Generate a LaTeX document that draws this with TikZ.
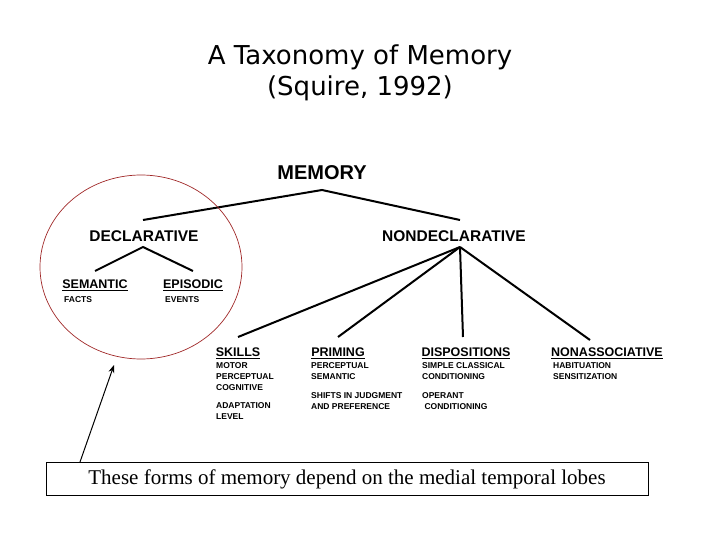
\documentclass[tikz,border=0pt]{standalone}
\usepackage{fontspec}
\usetikzlibrary{arrows.meta}
\setmainfont{Liberation Serif}
\newfontfamily\hvfont{Liberation Sans}
\newfontfamily\djfont{DejaVu Sans}
\begin{document}
\begin{tikzpicture}[x=1pt,y=-1pt,
  ln/.style={line width=2pt},
  big/.style={font=\hvfont\bfseries\fontsize{20}{22}\selectfont},
  mid/.style={font=\hvfont\bfseries\fontsize{15.5}{17}\selectfont},
  cat/.style={font=\hvfont\bfseries\fontsize{12.5}{13}\selectfont,inner sep=0pt},
  sm/.style={font=\hvfont\bfseries\fontsize{8.5}{11}\selectfont,align=left,anchor=north west,inner sep=0pt}]
\useasboundingbox (0,0) rectangle (720,540);
\node[font=\djfont\fontsize{26}{31}\selectfont,align=center] (title) at (360,73) {A Taxonomy of Memory\\(Squire, 1992)};
\node[big] (mem) at (322,173) {MEMORY};
\node[mid] (dec) at (144,236) {DECLARATIVE};
\node[mid] (nd) at (454,236) {NONDECLARATIVE};
\coordinate (m0) at (322,190); \coordinate (m1) at (143,220); \coordinate (m2) at (460,220);
\draw[ln] (m1)--(m0)--(m2);
\coordinate (d0) at (143,247); \coordinate (d1) at (95,271); \coordinate (d2) at (193,271);
\draw[ln] (d1)--(d0)--(d2);
\node[cat] (sem) at (95,285) {\underline{SEMANTIC}};
\node[cat] (epi) at (193,285) {\underline{EPISODIC}};
\node[sm] (facts) at (64,296) {FACTS};
\node[sm] (ev) at (165,296) {EVENTS};
\coordinate (n0) at (460,247);
\coordinate (c1) at (238,337); \coordinate (c2) at (338,337);
\coordinate (c3) at (463,337); \coordinate (c4) at (590,340);
\foreach \c in {c1,c2,c3,c4} \draw[ln] (n0)--(\c);
\node[cat] (sk) at (238,353) {\underline{SKILLS}};
\node[cat] (pr) at (338,353) {\underline{PRIMING}};
\node[cat] (di) at (466,353) {\underline{DISPOSITIONS}};
\node[cat] (na) at (607,353) {\underline{NONASSOCIATIVE}};
\node[sm] (sk1) at (216,362) {MOTOR\\PERCEPTUAL\\COGNITIVE};
\node[sm] (sk2) at (216,402) {ADAPTATION\\LEVEL};
\node[sm] (pr1) at (311,362) {PERCEPTUAL\\SEMANTIC};
\node[sm] (pr2) at (311,392) {SHIFTS IN JUDGMENT\\AND PREFERENCE};
\node[sm] (di1) at (422,362) {SIMPLE CLASSICAL\\CONDITIONING};
\node[sm] (di2) at (422,392) {OPERANT\\\ CONDITIONING};
\node[sm] (na1) at (553,362) {HABITUATION\\SENSITIZATION};
\draw[draw={rgb,255:red,160;green,40;blue,40},line width=0.7pt] (141,267) ellipse (101 and 92);
\node[draw,line width=0.8pt,minimum width=602,minimum height=33,inner sep=0pt,font=\fontsize{21}{24}\selectfont] (box) at (347,479) {These forms of memory depend on the medial temporal lobes};
\coordinate (tip) at (114,365);
\coordinate (tail) at (80,462);
\draw[line width=1pt,-{Stealth[length=8pt,width=6pt]}] (tail) -- (tip);
\end{tikzpicture}
\end{document}
